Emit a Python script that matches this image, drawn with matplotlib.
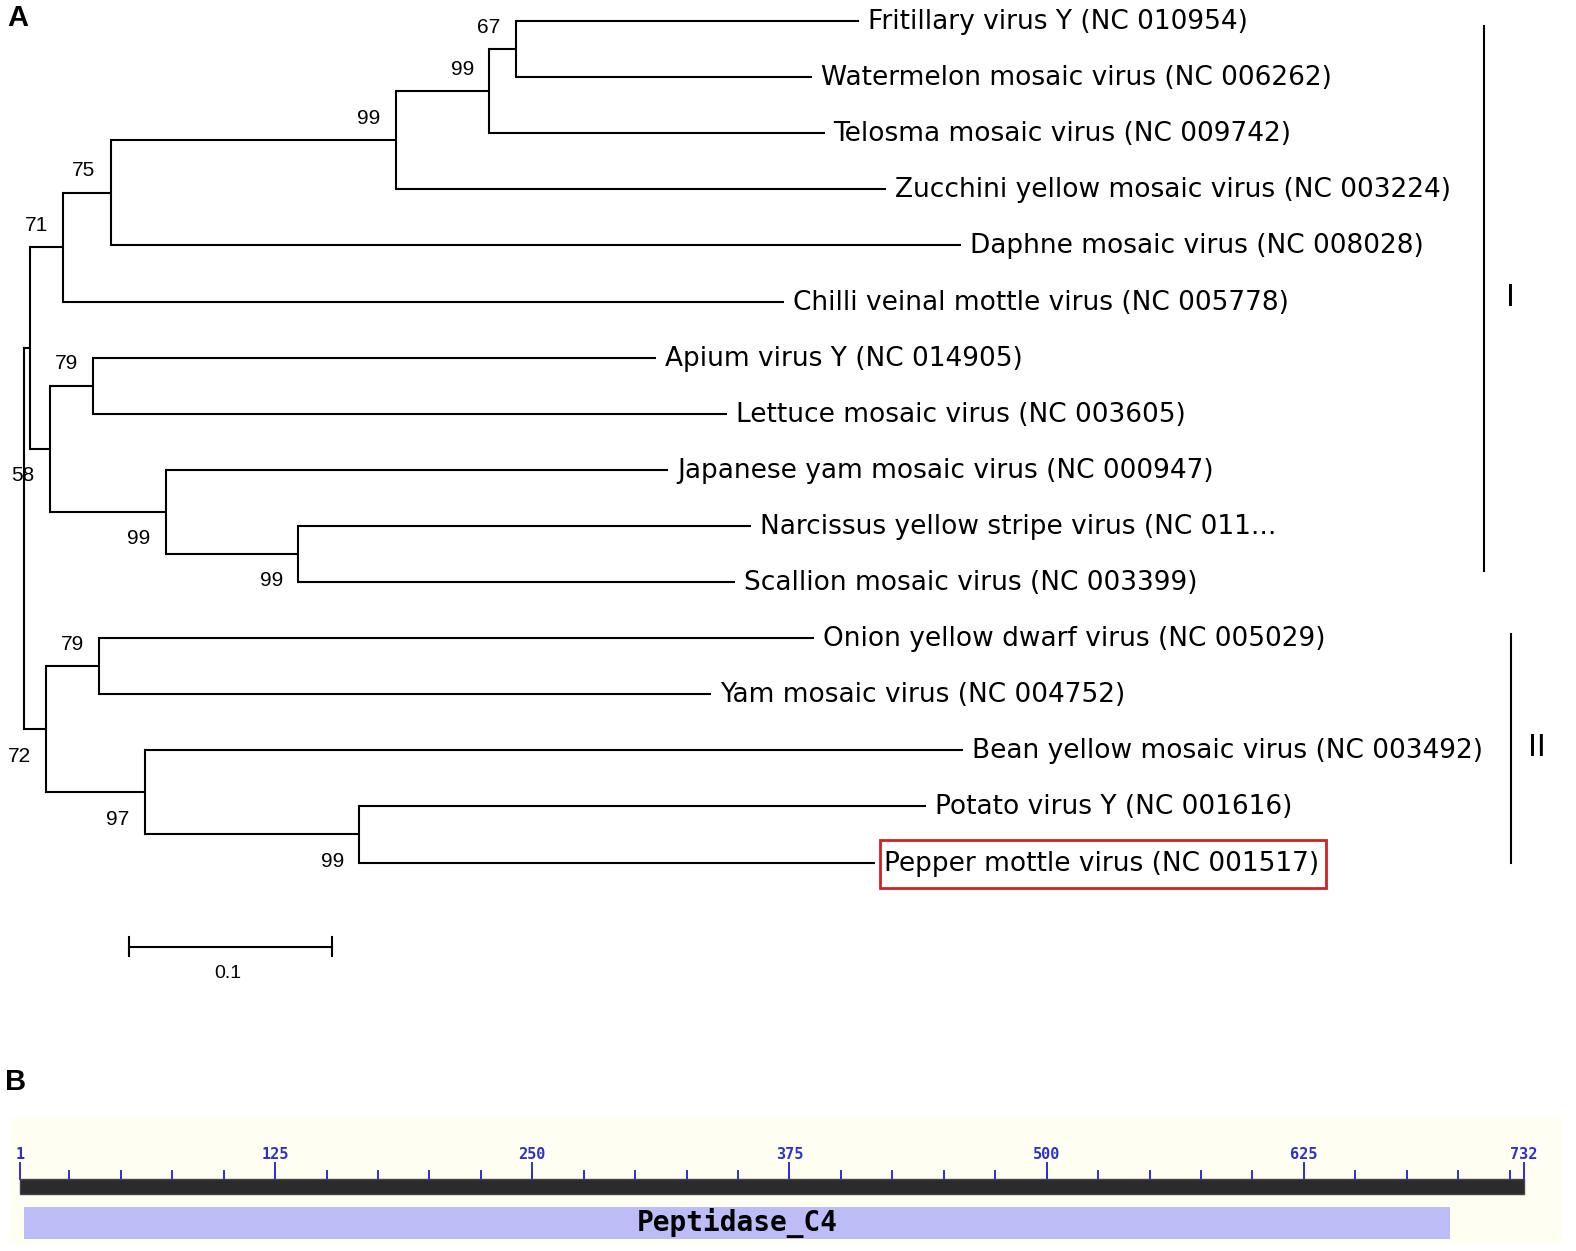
import matplotlib
matplotlib.use('Agg')
import matplotlib.pyplot as plt
from matplotlib.patches import Rectangle

# 계통수 데이터 (잎 이름, 루트로부터 거리)
leaf_names = [
    'Fritillary virus Y (NC 010954)',
    'Watermelon mosaic virus (NC 006262)',
    'Telosma mosaic virus (NC 009742)',
    'Zucchini yellow mosaic virus (NC 003224)',
    'Daphne mosaic virus (NC 008028)',
    'Chilli veinal mottle virus (NC 005778)',
    'Apium virus Y (NC 014905)',
    'Lettuce mosaic virus (NC 003605)',
    'Japanese yam mosaic virus (NC 000947)',
    'Narcissus yellow stripe virus (NC 011...',
    'Scallion mosaic virus (NC 003399)',
    'Onion yellow dwarf virus (NC 005029)',
    'Yam mosaic virus (NC 004752)',
    'Bean yellow mosaic virus (NC 003492)',
    'Potato virus Y (NC 001616)',
    'Pepper mottle virus (NC 001517)',
]
leaf_depth = [0.411, 0.388, 0.394, 0.424, 0.461, 0.374, 0.311, 0.346,
              0.317, 0.358, 0.350, 0.389, 0.338, 0.462, 0.444, 0.419]

# 내부 노드: 자식 쌍, 깊이, 부트스트랩 값, 라벨 위치(위/아래)
node_children = [(0, 1), (16, 2), (17, 3), (18, 4), (19, 5), (6, 7), (9, 10),
                 (8, 22), (21, 23), (20, 24), (11, 12), (14, 15), (13, 27),
                 (26, 28), (25, 29)]
node_depth = [0.242, 0.229, 0.183, 0.0426, 0.0193, 0.0342, 0.135,
              0.0698, 0.0129, 0.003, 0.0371, 0.165, 0.0594, 0.0109, 0.0]
node_support = [67, 99, 99, 75, 71, 79, 99, 99, 58, None, 79, 99, 97, 72, None]
node_side = ['up', 'up', 'up', 'up', 'up', 'up', 'down', 'down', 'down', None,
             'up', 'down', 'down', 'down', None]

highlight_leaf = 15
groups = ['I', 'II']
group_leaves = [(0, 10), (11, 15)]

# 도메인 데이터
protein_len = 732
major_ticks = [1, 125, 250, 375, 500, 625, 732]
minor_ticks = list(range(25, 732, 25))
domain_name = 'Peptidase_C4'
domain_start, domain_end = 3, 696

W, H = 1576, 1251
fig = plt.figure(figsize=(W / 100, H / 100), dpi=100)

# ---- A: 계통수 ----
px_per_unit = 2032.0
x0 = 24.0
row_h = 56.1
y0 = 21.0
ax = fig.add_axes([0, 0, 1, 1])
ax.set_xlim(-x0 / px_per_unit, (W - x0) / px_per_unit)
ax.set_ylim((H - y0) / row_h, -y0 / row_h)
ax.axis('off')

n_leaf = len(leaf_names)
ypos = {i: float(i) for i in range(n_leaf)}
xpos = {i: leaf_depth[i] for i in range(n_leaf)}
for k, (a, b) in enumerate(node_children):
    idx = n_leaf + k
    ypos[idx] = (ypos[a] + ypos[b]) / 2
    xpos[idx] = node_depth[k]

lw = 1.5
for k, (a, b) in enumerate(node_children):
    idx = n_leaf + k
    nx = xpos[idx]
    ax.plot([nx, nx], [ypos[a], ypos[b]], color='black', lw=lw, solid_capstyle='projecting')
    for c in (a, b):
        ax.plot([nx, xpos[c]], [ypos[c], ypos[c]], color='black', lw=lw, solid_capstyle='butt')
    if node_support[k] is not None:
        dy = 22 if node_side[k] == 'up' else -27
        ax.annotate(str(node_support[k]), (nx, ypos[idx]), xytext=(-27, dy),
                    textcoords='offset pixels', ha='center', va='center',
                    fontsize=15, family='Liberation Sans')

label_font = dict(fontsize=19, family='DejaVu Sans')
texts = []
for i, name in enumerate(leaf_names):
    t = ax.annotate(name, (leaf_depth[i], i), xytext=(9, -1), textcoords='offset pixels',
                    ha='left', va='center', **label_font)
    texts.append(t)

# 강조 박스 (Pepper mottle virus)
fig.canvas.draw()
bb = texts[highlight_leaf].get_window_extent()
cy = (bb.y0 + bb.y1) / 2
fig.add_artist(Rectangle((bb.x0 - 4, cy - 24), bb.width + 10, 48, transform=None,
                         fc='none', ec='#d41f1f', lw=2))

# 그룹 막대
gx = [(1484 - x0) / px_per_unit, (1511 - x0) / px_per_unit]
gpad = [(0.09, -0.2), (-0.08, 0.0)]
g_off = [26, 26]
for g, (s, e), gxi, (p0, p1), go in zip(groups, group_leaves, gx, gpad, g_off):
    ax.plot([gxi, gxi], [s + p0, e + p1], color='black', lw=1.5)
    ax.annotate(g, (gxi, (s + p0 + e + p1) / 2), xytext=(go, 0),
                textcoords='offset pixels', ha='center', va='center', fontsize=23,
                family='Liberation Sans')

# 스케일 바
sb_x = (129 - x0) / px_per_unit
sb_y = 15.5 + 1.0
ax.plot([sb_x, sb_x + 0.1], [sb_y, sb_y], color='black', lw=1.5)
for xx in (sb_x, sb_x + 0.1):
    ax.plot([xx, xx], [sb_y - 0.17, sb_y + 0.17], color='black', lw=1.5)
ax.annotate('0.1', (sb_x + 0.05, sb_y), xytext=(-3, -27), textcoords='offset pixels',
            ha='center', va='center', fontsize=14, family='Liberation Sans')

fig.text(7 / W, 1 - 18 / H, 'A', fontsize=21, fontweight='bold', va='center', ha='left',
         family='Liberation Sans')
fig.text(5 / W, 1 - 1082 / H, 'B', fontsize=21, fontweight='bold', va='center', ha='left',
         family='Liberation Sans')

# ---- B: 도메인 구조 ----
bx = fig.add_axes([0, 0, 1, (H - 1100) / H])
rpx = (1524 - 20) / (protein_len - 1)
bx.set_xlim(1 - 20 / rpx, 1 + (W - 20) / rpx)
bx.set_ylim(1251, 1100)
bx.axis('off')

bx.add_patch(Rectangle((1 - 10 / rpx, 1118), 1552 / rpx, 126, fc='#fefef2', ec='none'))
bx.add_patch(Rectangle((1, 1179), protein_len - 1, 15, fc='#2b2b2b', ec='#444444', lw=1))
bx.add_patch(Rectangle((domain_start, 1207), domain_end - domain_start, 32,
                       fc='#bcbcf7', ec='none'))
bx.text((domain_start + domain_end) / 2, 1223, domain_name, ha='center', va='center',
        fontsize=20, fontweight='bold', family='DejaVu Sans Mono')

tick_col = '#2f2fcf'
for t in major_ticks:
    bx.plot([t, t], [1163, 1179], color=tick_col, lw=1.4)
    bx.text(t, 1155, str(t), ha='center', va='center', fontsize=11, color=tick_col,
            fontweight='bold', family='DejaVu Sans Mono')
for t in minor_ticks:
    bx.plot([t, t], [1171, 1179], color=tick_col, lw=1.4)

plt.savefig('out.png', dpi=100)
